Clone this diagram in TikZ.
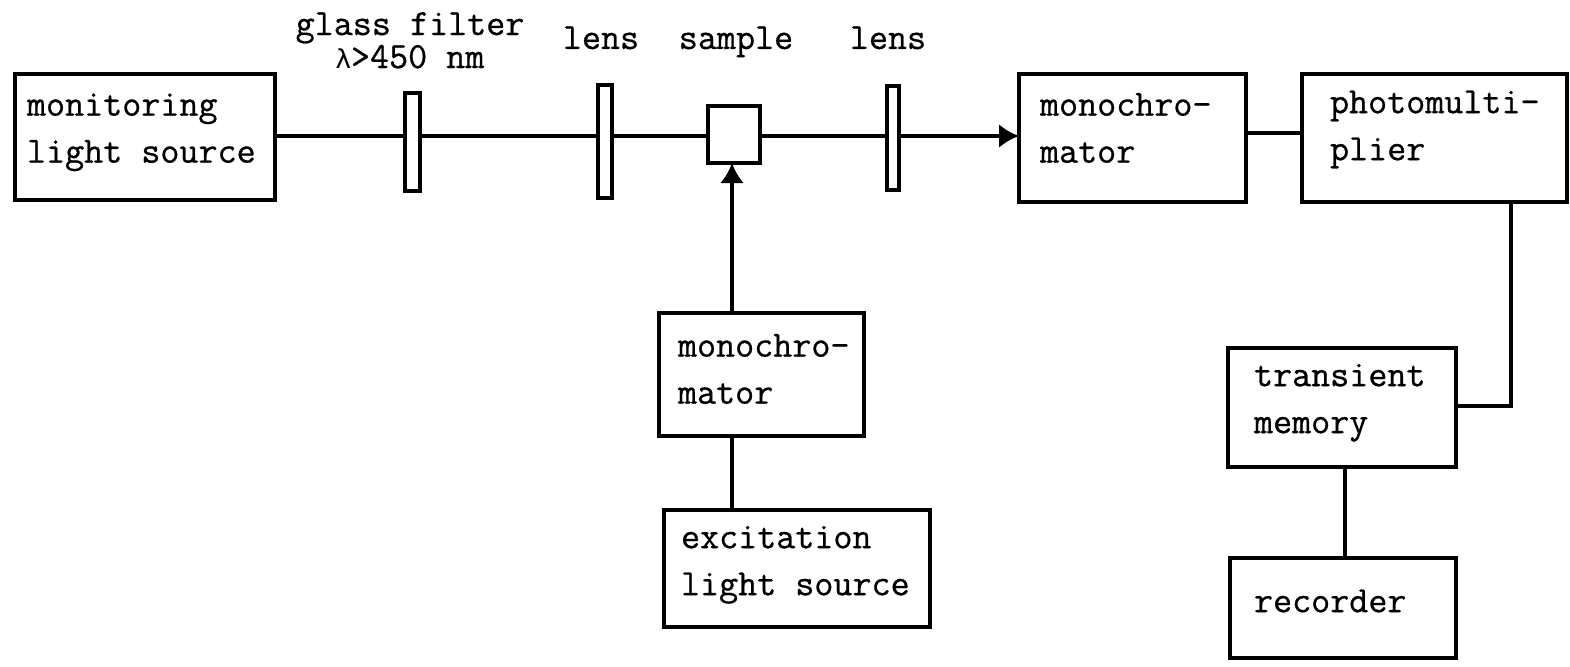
\documentclass[tikz,border=0pt]{standalone}
\usepackage{fontspec}
\setmonofont[FakeBold=0.7]{Latin Modern Mono}
\newfontfamily\lamfont{DejaVu Sans}
\usetikzlibrary{arrows.meta}
\newcommand{\labelfont}{\fontsize{37}{47}\selectfont\ttfamily}
\newcommand{\boxlines}[3]{\spaceskip=0pt\xspaceskip=0pt\raisebox{#1pt}[56pt][38pt]{\hspace*{#2pt}\begin{tabular}{@{}l@{}}#3\end{tabular}}}
\tikzset{
  box/.style={draw=black,line width=4pt,outer sep=0pt,anchor=north west,align=left,inner sep=0pt,font=\labelfont},
  optic/.style={draw=black,fill=white,line width=3.5pt,outer sep=0pt,anchor=north west,inner sep=0pt},
  captext/.style={font=\labelfont,align=center,anchor=base,inner sep=0pt},
  wire/.style={draw=black,line width=4pt},
  flow/.style={wire,-{Latex[length=20pt,width=24pt]}}
}
\begin{document}
\begin{tikzpicture}[x=1pt,y=-1pt]
\useasboundingbox (0,0) rectangle (1570,666);
\fill[white] (0,0) rectangle (1570,666);
\begin{scope}[shift={(1,1)}]
\coordinate (axis) at (0,135);
\coordinate (axisb) at (0,132);
\coordinate (axisc) at (0,405);
\coordinate (xa) at (731,0);
\coordinate (xb) at (1510,0);
\coordinate (xc) at (1344,0);
\node[box,minimum width=260pt,minimum height=126pt,text width=260pt] (mon) at (14,73) {\boxlines{10}{12}{monitoring\\light source}};
\node[optic,minimum width=15pt,minimum height=98pt] (fil) at (404,92) {};
\node[optic,minimum width=14pt,minimum height=113pt] (lensa) at (597,84) {};
\node[draw=black,fill=white,line width=4pt,outer sep=0pt,anchor=north west,minimum width=52pt,minimum height=57pt,inner sep=0pt] (sam) at (707,105) {};
\node[optic,minimum width=12pt,minimum height=104pt] (lensb) at (886,85) {};
\node[box,minimum width=227pt,minimum height=128pt,text width=227pt] (monoa) at (1018,73) {\boxlines{11}{21}{monochro-\\mator}};
\node[box,minimum width=265pt,minimum height=128pt,text width=265pt] (pm) at (1301,73) {\boxlines{13.5}{28}{photomulti-\\plier}};
\node[box,minimum width=205pt,minimum height=123pt,text width=205pt] (monob) at (658,312) {\boxlines{6.5}{19}{monochro-\\mator}};
\node[box,minimum width=266pt,minimum height=117pt,text width=266pt] (exc) at (663,509) {\boxlines{9}{17}{excitation\\light source}};
\node[box,minimum width=228pt,minimum height=119pt,text width=228pt] (tra) at (1227,347) {\boxlines{10}{26}{transient\\memory}};
\node[box,minimum width=226pt,minimum height=100pt,text width=226pt] (rec) at (1229,557) {\boxlines{8}{24}{recorder}};
\node[captext,anchor=north] (capf) at (409,11) {glass filter\\[-14pt]{\lamfont\fontsize{26}{26}\selectfont λ}>450 nm};
\node[captext] (capa) at (600,48) {lens};
\node[captext] (caps) at (735,48) {sample};
\node[captext] (capb) at (887,48) {lens};
\draw[wire] (mon.east|-axis) -- (fil.west|-axis);
\draw[wire] (fil.east|-axis) -- (lensa.west|-axis);
\draw[wire] (lensa.east|-axis) -- (sam.west|-axis);
\draw[wire] (sam.east|-axis) -- (lensb.west|-axis);
\draw[flow] (lensb.east|-axis) -- (monoa.west|-axis);
\draw[wire] (monoa.east|-axisb) -- (pm.west|-axisb);
\draw[flow] (monob.north-|xa) -- (sam.south-|xa);
\draw[wire] (exc.north-|xa) -- (monob.south-|xa);
\draw[wire] (pm.south-|xb) |- (tra.east|-axisc);
\draw[wire] (rec.north-|xc) -- (tra.south-|xc);
\end{scope}
\end{tikzpicture}
\end{document}
